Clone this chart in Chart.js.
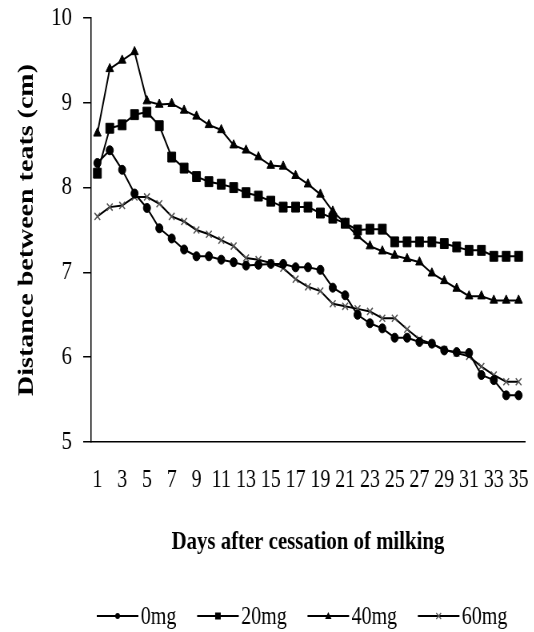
<!DOCTYPE html>
<html>
<head>
<meta charset="utf-8">
<title>Distance between teats</title>
<script src="https://cdn.jsdelivr.net/npm/chart.js@4.4.1/dist/chart.umd.min.js"></script>
<style>
    html, body { margin: 0; padding: 0; background: #fff; overflow: hidden; }
    /* the original figure is squeezed sideways, so draw wide and squeeze it */
    #wrap { width: 668px; height: 632px; transform: scaleX(0.8); transform-origin: 0 0; }
</style>
</head>
<body>
<div id="wrap"><canvas id="teatChart"></canvas></div>
<script>
const days = ['1', '2', '3', '4', '5', '6', '7', '8', '9', '10', '11', '12', '13', '14', '15', '16', '17', '18',
    '19', '20', '21', '22', '23', '24', '25', '26', '27', '28', '29', '30', '31', '32', '33', '34', '35'];

const dose0 = [8.29, 8.44, 8.21, 7.93, 7.76, 7.52, 7.40, 7.27, 7.19, 7.19, 7.15, 7.12, 7.08, 7.09, 7.10, 7.10, 7.06, 7.06,
    7.03, 6.82, 6.73, 6.50, 6.40, 6.34, 6.23, 6.23, 6.18, 6.16, 6.08, 6.06, 6.05, 5.79, 5.73, 5.55, 5.55];
const dose20 = [8.17, 8.70, 8.74, 8.86, 8.89, 8.73, 8.36, 8.23, 8.13, 8.07, 8.04, 8.00, 7.94, 7.90, 7.84, 7.77, 7.77, 7.77,
    7.70, 7.64, 7.58, 7.50, 7.51, 7.51, 7.36, 7.36, 7.36, 7.36, 7.34, 7.30, 7.26, 7.26, 7.19, 7.19, 7.19];
const dose40 = [8.64, 9.40, 9.50, 9.60, 9.02, 8.98, 8.99, 8.91, 8.84, 8.74, 8.68, 8.50, 8.44, 8.36, 8.26, 8.25, 8.14, 8.04,
    7.92, 7.72, 7.58, 7.43, 7.31, 7.25, 7.20, 7.16, 7.12, 6.99, 6.90, 6.81, 6.72, 6.72, 6.67, 6.67, 6.67];
const dose60 = [7.66, 7.77, 7.79, 7.89, 7.89, 7.81, 7.66, 7.60, 7.50, 7.45, 7.38, 7.31, 7.17, 7.15, 7.11, 7.05, 6.92, 6.83,
    6.78, 6.63, 6.60, 6.57, 6.54, 6.46, 6.46, 6.33, 6.21, 6.16, 6.09, 6.05, 6.01, 5.89, 5.79, 5.71, 5.71];

const yTitle = 'Distance between teats (cm)';
const xTitle = 'Days after cessation of milking';

const serif = '"Liberation Serif", "Times New Roman", serif';
Chart.defaults.font.family = serif;
Chart.defaults.color = '#000';

function series(label, data, style, radius, markColor) {
    return {
        label: label,
        data: data,
        borderColor: '#000',
        borderWidth: 2,
        tension: 0,
        fill: false,
        pointStyle: style,
        pointRadius: radius,
        pointHoverRadius: radius,
        pointBackgroundColor: markColor,
        pointBorderColor: markColor,
        pointBorderWidth: style === 'crossRot' ? 1.5 : 1
    };
}

function drawMark(ctx, style, x, y) {
    ctx.beginPath();
    if (style === 'circle') {
        ctx.arc(x, y, 3, 0, Math.PI * 2);
        ctx.fill();
    } else if (style === 'rect') {
        ctx.fillRect(x - 3.5, y - 3.5, 7, 7);
    } else if (style === 'triangle') {
        ctx.moveTo(x, y - 4);
        ctx.lineTo(x + 4, y + 3);
        ctx.lineTo(x - 4, y + 3);
        ctx.closePath();
        ctx.fill();
    } else {
        ctx.strokeStyle = '#555';
        ctx.lineWidth = 1.2;
        ctx.moveTo(x - 3, y - 3); ctx.lineTo(x + 3, y + 3);
        ctx.moveTo(x + 3, y - 3); ctx.lineTo(x - 3, y + 3);
        ctx.stroke();
    }
}

// legend: short line with the marker in the middle, then the label
const lineLegend = {
    id: 'lineLegend',
    afterDraw(chart) {
        const ctx = chart.ctx;
        const y = 616;
        let x = chart.chartArea.left + 7;
        ctx.save();
        ctx.font = '25px ' + serif;
        ctx.textBaseline = 'middle';
        chart.data.datasets.forEach(ds => {
            ctx.strokeStyle = '#000';
            ctx.fillStyle = '#000';
            ctx.lineWidth = 2;
            ctx.beginPath();
            ctx.moveTo(x, y);
            ctx.lineTo(x + 52, y);
            ctx.stroke();
            drawMark(ctx, ds.pointStyle, x + 26, y);
            ctx.fillStyle = '#000';
            ctx.fillText(ds.label, x + 55, y + 1);
            x += 55 + ctx.measureText(ds.label).width + 26;
        });
        ctx.restore();
    }
};

// keep the plot box where the figure has it
function noEdgePadding(scale) {
    scale.paddingLeft = 0;
    scale.paddingRight = 0;
    scale.paddingTop = 0;
    scale.paddingBottom = 0;
}

new Chart(document.getElementById('teatChart'), {
    type: 'line',
    data: {
        labels: days,
        datasets: [
            series('0mg', dose0, 'circle', 4.5, '#000'),
            series('20mg', dose20, 'rect', 7, '#000'),
            series('40mg', dose40, 'triangle', 5.5, '#000'),
            series('60mg', dose60, 'crossRot', 5, '#555')
        ]
    },
    options: {
        responsive: true,
        maintainAspectRatio: false,
        animation: false,
        events: [],
        layout: { padding: { top: 18, right: 12, bottom: 60, left: 0 } },
        plugins: {
            legend: { display: false },
            tooltip: { enabled: false }
        },
        scales: {
            x: {
                offset: true,
                grid: { display: false, drawTicks: false },
                border: { display: true, color: '#000', width: 1.5 },
                ticks: {
                    autoSkip: false,
                    maxRotation: 0,
                    minRotation: 0,
                    padding: 23,
                    font: { size: 25 },
                    callback: (v, i) => (i % 2 === 0 ? days[i] : '')
                },
                title: {
                    display: true,
                    text: xTitle,
                    font: { size: 26, weight: 'bold' },
                    padding: { top: 0, bottom: 14 }
                },
                afterFit: scale => { scale.height = 130; noEdgePadding(scale); }
            },
            y: {
                min: 5,
                max: 10,
                ticks: { stepSize: 1, padding: 14, font: { size: 26 } },
                grid: { drawOnChartArea: false, drawTicks: true, tickLength: 10, color: '#000', lineWidth: 1.5 },
                border: { display: true, color: '#000', width: 1.5 },
                title: {
                    display: true,
                    text: yTitle,
                    font: { size: 28, weight: 'bold' },
                    padding: { top: 17, bottom: 0 }
                },
                afterFit: scale => { scale.width = 114; noEdgePadding(scale); }
            }
        }
    },
    plugins: [lineLegend]
});
</script>
</body>
</html>
